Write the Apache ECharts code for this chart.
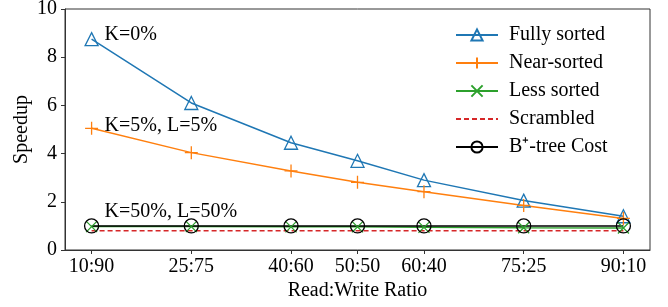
<!DOCTYPE html>
<html>
<head>
<meta charset="utf-8">
<script src="https://cdn.jsdelivr.net/npm/echarts@6/dist/echarts.min.js"></script>
<style>
  html, body { margin: 0; padding: 0; background: #fff; }
  #chart { width: 668px; height: 307px; }
</style>
</head>
<body>
<div id="chart"></div>
<script>
// read percentage on x, tick text shown as ratio
const readPct = [10, 25, 40, 50, 60, 75, 90]
const ratioLabels = ['10:90', '25:75', '40:60', '50:50', '60:40', '75:25', '90:10']

const fullySorted = [8.75, 6.1, 4.45, 3.7, 2.9, 2.05, 1.4]
const nearSorted = [5.05, 4.04, 3.28, 2.81, 2.42, 1.85, 1.31]
const lessSorted = [0.97, 0.97, 0.96, 0.96, 0.94, 0.92, 0.91]
const scrambled = [0.8, 0.8, 0.8, 0.8, 0.8, 0.8, 0.8]
const btreeCost = [1, 1, 1, 1, 1, 1, 1]

const FONT = 'Liberation Serif'
const FS = 20
const chart = echarts.init(document.getElementById('chart'))

const pts = (ys) => readPct.map((x, i) => [x, ys[i]])

// 注释文字，挂在各系列的第一个点上
const note = (text, y, offset) => ({
  data: [{ coord: [readPct[0], y] }],
  symbol: 'circle',
  symbolSize: 0,
  silent: true,
  label: {
    show: true,
    position: 'right',
    distance: 13,
    offset: offset,
    formatter: text,
    color: '#000',
    fontFamily: FONT,
    fontSize: FS
  }
})

const plusPath = 'path://M0,5 L10,5 M5,0 L5,10'
const crossPath = 'path://M0,0 L10,10 M10,0 L0,10'

const option = {
  animation: false,
  textStyle: { fontFamily: FONT },
  grid: {
    left: 65, right: 18, top: 9, bottom: 57,
    outerBoundsMode: 'none',
    containLabel: false,
    show: true, borderColor: '#333', borderWidth: 1
  },
  legend: {
    orient: 'vertical',
    left: 450,
    top: 20,
    itemWidth: 42,
    itemHeight: 14,
    itemGap: 8,
    textStyle: { fontFamily: FONT, fontSize: FS, color: '#000', padding: [0, 0, 0, 6] },
    data: [
      'Fully sorted',
      'Near-sorted',
      'Less sorted',
      { name: 'Scrambled', itemStyle: { opacity: 0 } },
      'B\u207A-tree Cost'
    ]
  },
  xAxis: {
    type: 'value',
    min: 6,
    max: 94,
    name: 'Read:Write Ratio',
    nameLocation: 'middle',
    nameGap: 31,
    nameMoveOverlap: false,
    nameTextStyle: { fontFamily: FONT, fontSize: FS, color: '#000' },
    axisLine: { show: true, lineStyle: { color: '#333' } },
    axisTick: { show: true, length: 4, customValues: readPct, lineStyle: { color: '#333' } },
    axisLabel: {
      customValues: readPct,
      formatter: (v) => ratioLabels[readPct.indexOf(v)],
      fontFamily: FONT, fontSize: FS, color: '#000', margin: 7
    },
    splitLine: { show: false }
  },
  yAxis: {
    type: 'value',
    min: 0,
    max: 10,
    interval: 2,
    name: 'Speedup',
    nameLocation: 'middle',
    nameGap: 33,
    nameMoveOverlap: false,
    nameTextStyle: { fontFamily: FONT, fontSize: FS, color: '#000' },
    axisLine: { show: true, lineStyle: { color: '#333' } },
    axisTick: { show: true, length: 4, lineStyle: { color: '#333' } },
    axisLabel: { fontFamily: FONT, fontSize: FS, color: '#000', margin: 8 },
    splitLine: { show: false }
  },
  series: [
    {
      name: 'Fully sorted',
      type: 'line',
      data: pts(fullySorted),
      symbol: 'triangle',
      symbolSize: 13,
      lineStyle: { color: '#1f77b4', width: 1.5 },
      itemStyle: { color: 'rgba(255,255,255,0)', borderColor: '#1f77b4', borderWidth: 1.3 },
      markPoint: note('K=0%', fullySorted[0], [0, -4])
    },
    {
      name: 'Near-sorted',
      type: 'line',
      data: pts(nearSorted),
      symbol: plusPath,
      symbolSize: 13,
      lineStyle: { color: '#ff7f0e', width: 1.5 },
      itemStyle: { color: 'rgba(255,255,255,0)', borderColor: '#ff7f0e', borderWidth: 1.3 },
      markPoint: note('K=5%, L=5%', nearSorted[0], [0, -3])
    },
    {
      name: 'Less sorted',
      type: 'line',
      data: pts(lessSorted),
      symbol: crossPath,
      symbolSize: 11,
      lineStyle: { color: '#2ca02c', width: 1.5 },
      itemStyle: { color: 'rgba(255,255,255,0)', borderColor: '#2ca02c', borderWidth: 1.3 }
    },
    {
      name: 'Scrambled',
      type: 'line',
      data: pts(scrambled),
      showSymbol: false,
      symbol: 'none',
      lineStyle: { color: '#d62728', width: 1.5, type: [5, 3] },
      itemStyle: { color: '#d62728' }
    },
    {
      name: 'B\u207A-tree Cost',
      type: 'line',
      data: pts(btreeCost),
      symbol: 'circle',
      symbolSize: 14,
      lineStyle: { color: '#000', width: 1.5 },
      itemStyle: { color: 'rgba(255,255,255,0)', borderColor: '#000', borderWidth: 1.3 },
      markPoint: note('K=50%, L=50%', btreeCost[0], [0, -14])
    }
  ]
}

chart.setOption(option)
</script>
</body>
</html>
